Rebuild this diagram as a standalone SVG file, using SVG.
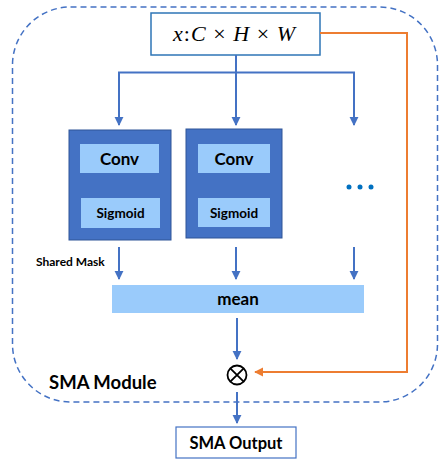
<svg xmlns="http://www.w3.org/2000/svg" width="440" height="460" viewBox="0 0 440 460">
  <defs>
    <marker id="arrBlue" viewBox="0 0 10 10" refX="9" refY="5" markerWidth="4.5" markerHeight="5" orient="auto" markerUnits="strokeWidth">
      <path d="M0,0 L10,5 L0,10 z" fill="#4472C4"/>
    </marker>
    <marker id="arrOrange" viewBox="0 0 10 10" refX="9" refY="5" markerWidth="4.5" markerHeight="5" orient="auto" markerUnits="strokeWidth">
      <path d="M0,0 L10,5 L0,10 z" fill="#ED7D31"/>
    </marker>
    <style>
      .lbl { font-family: Lato, "Open Sans", "Liberation Sans", sans-serif; font-weight: bold; fill: #000; text-anchor: middle; }
      .branch { fill: #4472C4; stroke: #2F5597; stroke-width: 1; }
      .inner { fill: #9ACBFB; }
      .blue { fill: none; stroke: #4472C4; stroke-width: 2; }
      .orange { fill: none; stroke: #ED7D31; stroke-width: 2; }
    </style>
  </defs>

  <!-- module boundary -->
  <g id="module">
    <rect x="12.5" y="7" width="425" height="395" rx="58" ry="58" fill="none" stroke="#4472C4" stroke-width="1.5" stroke-dasharray="6 4"/>
    <text class="lbl" x="49" y="389" font-size="18.5" style="text-anchor:start">SMA Module</text>
  </g>

  <!-- input tensor -->
  <g id="input">
    <rect x="151" y="13" width="169" height="42" fill="#fff" stroke="#2E75B6" stroke-width="1.5"/>
    <text x="234" y="41" font-family="Liberation Serif, serif" font-size="22" text-anchor="middle" textLength="122" lengthAdjust="spacing"><tspan font-style="italic">x</tspan>:<tspan font-style="italic">C</tspan> × <tspan font-style="italic">H</tspan> × <tspan font-style="italic">W</tspan></text>
  </g>

  <!-- branch 1 -->
  <g id="branch1">
    <rect class="branch" x="69" y="130" width="102" height="110"/>
    <rect class="inner" x="80" y="144" width="79" height="29"/>
    <text class="lbl" x="119.5" y="165" font-size="17">Conv</text>
    <rect class="inner" x="81" y="198" width="79" height="30"/>
    <text class="lbl" x="120.5" y="218" font-size="13.5">Sigmoid</text>
  </g>

  <!-- branch 2 -->
  <g id="branch2">
    <rect class="branch" x="186" y="129" width="96" height="109"/>
    <rect class="inner" x="198" y="144" width="72" height="29"/>
    <text class="lbl" x="234" y="165" font-size="17">Conv</text>
    <rect class="inner" x="198" y="198" width="72" height="29"/>
    <text class="lbl" x="234" y="218" font-size="13.5">Sigmoid</text>
  </g>

  <!-- further branches -->
  <g id="more" fill="#0070C0">
    <circle cx="349" cy="187" r="2.5"/>
    <circle cx="360" cy="187" r="2.5"/>
    <circle cx="371" cy="187" r="2.5"/>
  </g>

  <g id="shared-mask">
    <text class="lbl" x="36" y="266" font-size="12" style="text-anchor:start">Shared Mask</text>
  </g>

  <!-- mean -->
  <g id="mean">
    <rect x="112" y="285" width="252" height="28" fill="#9ACBFB"/>
    <text class="lbl" x="238" y="305" font-size="17">mean</text>
  </g>

  <!-- multiply -->
  <g id="multiply">
    <circle cx="237" cy="375" r="9.5" fill="#fff" stroke="#000" stroke-width="1.8"/>
    <path d="M230.3,368.3 L243.7,381.7 M243.7,368.3 L230.3,381.7" stroke="#000" stroke-width="1.8"/>
  </g>

  <!-- output -->
  <g id="output">
    <rect x="176" y="427" width="120" height="31" fill="#fff" stroke="#4472C4" stroke-width="1.2"/>
    <text class="lbl" x="236" y="449" font-size="16.5">SMA Output</text>
  </g>

  <!-- connectors -->
  <g id="connectors">
    <path class="blue" d="M236,55 V72.5"/>
    <path class="blue" d="M119,125 V72.5 H354 V125" marker-end="url(#arrBlue)"/>
    <path class="blue" d="M119,72.5 V125" marker-end="url(#arrBlue)"/>
    <path class="blue" d="M236,72.5 V125" marker-end="url(#arrBlue)"/>
    <path class="blue" d="M119,247 V279" marker-end="url(#arrBlue)"/>
    <path class="blue" d="M236,247 V279" marker-end="url(#arrBlue)"/>
    <path class="blue" d="M354,247 V279" marker-end="url(#arrBlue)"/>
    <path class="blue" d="M237,318 V359" marker-end="url(#arrBlue)"/>
    <path class="blue" d="M237,392 V423" marker-end="url(#arrBlue)"/>
    <path class="orange" d="M320,33 H407 V372 H255" marker-end="url(#arrOrange)"/>
  </g>
</svg>
